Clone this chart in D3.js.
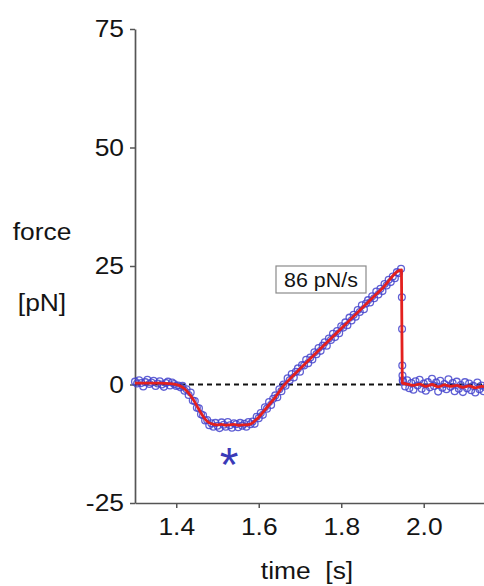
<!DOCTYPE html>
<html>
<head>
<meta charset="utf-8">
<script src="https://cdn.jsdelivr.net/npm/d3@7"></script>
<style>
  html, body { margin: 0; padding: 0; background: #fff; }
  svg { display: block; font-family: "Liberation Sans", Arial, Helvetica, sans-serif; }
</style>
</head>
<body>
<svg id="chart" width="484" height="586"></svg>
<script>
// ---- data ----
const yTicks = [-25, 0, 25, 50, 75];
const xTicks = [1.4, 1.6, 1.8, 2.0];

// measured samples (blue circles)
const sampleTime = [
  1.300,1.305,1.310,1.315,1.320,1.325,1.330,1.335,1.340,1.345,1.350,1.355,1.360,1.365,1.370,1.375,1.380,1.385,1.390,1.395,1.400,
  1.405,1.410,1.415,1.420,1.425,1.430,1.435,1.440,1.445,1.450,1.455,1.460,1.465,1.470,1.475,1.480,1.485,
  1.490,1.495,1.500,1.505,1.510,1.515,1.520,1.525,1.530,1.535,1.540,1.545,1.550,1.555,1.560,1.565,1.570,1.575,1.580,
  1.585,1.590,1.595,1.600,1.605,1.610,1.615,1.620,1.625,1.630,1.635,1.640,1.645,1.650,1.655,1.660,
  1.665,1.670,1.675,1.680,1.685,1.690,1.695,1.700,1.705,1.710,1.715,1.720,1.725,1.730,1.735,1.740,
  1.745,1.750,1.755,1.760,1.765,1.770,1.775,1.780,1.785,1.790,1.795,1.800,1.805,1.810,1.815,1.820,
  1.825,1.830,1.835,1.840,1.845,1.850,1.855,1.860,1.865,1.870,1.875,1.880,1.885,1.890,1.895,1.900,
  1.905,1.910,1.915,1.920,1.925,1.930,1.935,1.940,1.945,
  1.947,1.9475,1.948,1.9485,1.949,
  1.950,1.955,1.960,1.965,1.970,1.975,1.980,1.985,1.990,1.995,2.000,2.005,2.010,2.015,2.020,2.025,2.030,2.035,2.040,2.045,
  2.050,2.055,2.060,2.065,2.070,2.075,2.080,2.085,2.090,2.095,2.100,2.105,2.110,2.115,2.120,2.125,2.130,2.135,2.140,2.145,2.150
];
const sampleForce = [
  0.6,0.2,0.9,0.3,-0.4,0.5,1.0,0.1,0.4,0.8,-0.3,0.2,0.7,0.0,-0.5,0.3,0.6,-0.2,0.4,0.1,-0.3,
  -0.2,-0.6,-0.3,-1.3,-1.0,-2.2,-1.7,-3.4,-3.5,-4.9,-5.0,-6.3,-6.5,-7.6,-7.5,-8.6,-8.2,
  -8.9,-8.1,-8.7,-9.2,-8.0,-8.5,-8.9,-7.9,-8.6,-9.1,-8.2,-8.4,-9.0,-8.1,-8.7,-8.3,-8.9,-7.9,-8.4,
  -7.8,-8.3,-6.8,-7.1,-6.0,-6.4,-4.8,-5.1,-3.7,-4.3,-3.0,-2.3,-2.7,-1.0,-1.4,0.0,
  -0.25,1.3,0.9,2.2,1.5,2.7,3.4,2.7,4.1,4.0,5.2,4.5,5.7,5.3,6.8,6.4,
  7.7,7.1,8.2,8.9,8.2,9.7,9.4,10.7,10.0,11.3,10.8,12.3,12.0,13.1,12.5,14.1,
  13.5,14.7,14.3,15.7,15.3,16.7,15.9,17.1,17.8,17.3,18.6,18.2,19.6,19.0,20.2,19.7,
  21.2,20.9,22.1,21.6,22.8,22.4,23.7,23.5,24.4,
  18.4,11.7,4.0,1.9,0.9,
  0.6,-0.4,0.9,-0.8,0.3,-1.1,0.7,-0.2,1.0,-0.9,0.2,-1.3,0.5,-0.6,1.2,-0.3,0.4,-1.5,0.8,-0.7,
  0.1,-1.0,1.1,-0.5,0.3,-1.4,0.6,-0.9,-0.1,-1.6,0.5,-0.8,0.2,-1.2,-0.3,-1.7,0.4,-1.0,-0.2,-1.4,-0.6
];

// fitted trace (red line)
const fitTime = [
  1.300,1.320,1.340,1.360,1.380,1.395,1.400,1.410,1.420,1.430,1.440,1.450,1.460,1.470,1.480,1.490,
  1.500,1.510,1.520,1.530,1.540,1.550,1.560,1.570,1.578,1.585,1.590,1.600,1.620,1.640,1.660,1.680,
  1.700,1.750,1.800,1.850,1.900,1.946,1.948,1.960,1.975,1.990,2.005,2.020,2.035,2.050,2.065,2.080,
  2.095,2.110,2.125,2.140,2.150
];
const fitForce = [
  0.3,0.3,0.3,0.3,0.2,0.1,0.0,-0.3,-0.9,-1.8,-3.0,-4.5,-6.0,-7.3,-8.1,-8.4,
  -8.5,-8.4,-8.6,-8.5,-8.4,-8.6,-8.5,-8.5,-8.4,-8.1,-7.7,-6.9,-4.8,-2.7,-0.3,1.6,
  3.3,7.6,11.8,16.1,20.3,24.2,0.3,0.1,-0.2,0.1,-0.4,0.0,-0.5,-0.1,-0.4,-0.2,
  -0.6,-0.3,-0.7,-0.4,-0.5
];

const rateLabel = "86 pN/s";
const markerLabel = "*";
const yLabelLines = ["force", "[pN]"];
const xLabel = "time\u00a0\u00a0[s]";

// ---- drawing ----
const svg = d3.select("#chart");
const W = 484, H = 586;
const SX = 1.1; // slight horizontal stretch of the lettering in the reference

const x = d3.scaleLinear().domain([1.3, 2.15]).range([135, 485.6]);
const y = d3.scaleLinear().domain([-25, 75]).range([503, 29]);

const axisColor = "#555";
const textColor = "#141414";

function stretchText(sel) {
  sel.each(function () {
    const t = d3.select(this);
    const tx = +t.attr("x") || 0;
    const ty = +t.attr("y") || 0;
    t.attr("x", 0).attr("y", 0)
     .attr("transform", `translate(${tx},${ty}) scale(${SX},1)`);
  });
}

// clip for data
svg.append("clipPath").attr("id", "plotclip")
  .append("rect").attr("x", 130).attr("y", 0).attr("width", W - 130).attr("height", 503);

// y axis
const gy = svg.append("g").attr("transform", `translate(${x(1.3)},0)`)
  .call(d3.axisLeft(y).tickValues(yTicks).tickFormat(d => String(d)).tickSize(5).tickSizeOuter(0).tickPadding(6));
gy.select(".domain").attr("stroke", axisColor).attr("stroke-width", 1.7);
gy.selectAll(".tick line").attr("stroke", axisColor).attr("stroke-width", 1.5);
gy.selectAll(".tick text").attr("fill", textColor).attr("font-size", 24)
  .attr("font-family", "Liberation Sans, Arial, sans-serif").call(stretchText);

// x axis
const gx = svg.append("g").attr("transform", `translate(0,${y(-25)})`)
  .call(d3.axisBottom(x).tickValues(xTicks).tickFormat(d3.format(".1f")).tickSize(5).tickSizeOuter(0).tickPadding(10));
gx.select(".domain").attr("stroke", axisColor).attr("stroke-width", 1.7);
gx.selectAll(".tick line").attr("stroke", axisColor).attr("stroke-width", 1.5);
gx.selectAll(".tick text").attr("fill", textColor).attr("font-size", 24)
  .attr("font-family", "Liberation Sans, Arial, sans-serif").call(stretchText);

// zero reference line
svg.append("line")
  .attr("x1", x(1.3)).attr("x2", W)
  .attr("y1", y(0)).attr("y2", y(0))
  .attr("stroke", "#111").attr("stroke-width", 2).attr("stroke-dasharray", "5,4");

const plot = svg.append("g").attr("clip-path", "url(#plotclip)");

// samples
plot.append("g").selectAll("circle")
  .data(sampleTime.map((t, i) => [t, sampleForce[i]]))
  .join("circle")
  .attr("cx", d => x(d[0])).attr("cy", d => y(d[1])).attr("r", 3.4)
  .attr("fill", "none").attr("stroke", "#4444cc").attr("stroke-width", 1.3).attr("stroke-opacity", 0.85);

// fitted trace
const line = d3.line().x(d => x(d[0])).y(d => y(d[1])).curve(d3.curveMonotoneX);
plot.append("path")
  .datum(fitTime.map((t, i) => [t, fitForce[i]]))
  .attr("d", line)
  .attr("fill", "none").attr("stroke", "#e3201e").attr("stroke-width", 2.8).attr("stroke-linejoin", "round");

// rate label box
svg.append("rect").attr("x", 276).attr("y", 266).attr("width", 90).attr("height", 27)
  .attr("fill", "#fff").attr("stroke", "#8a8a8a").attr("stroke-width", 1.2);
svg.append("text").attr("x", 321).attr("y", 287).attr("text-anchor", "middle")
  .attr("font-size", 19.5).attr("fill", textColor).text(rateLabel).call(stretchText);

// asterisk marker under the plateau
svg.append("text").attr("x", 229).attr("y", 481).attr("text-anchor", "middle")
  .attr("font-size", 48).attr("fill", "#3a3ab8").text(markerLabel);

// axis titles
svg.append("text").attr("x", 42).attr("y", 240).attr("text-anchor", "middle")
  .attr("font-size", 24).attr("fill", textColor).text(yLabelLines[0]).call(stretchText);
svg.append("text").attr("x", 42).attr("y", 311).attr("text-anchor", "middle")
  .attr("font-size", 24).attr("fill", textColor).text(yLabelLines[1]).call(stretchText);
svg.append("text").attr("x", 307).attr("y", 579).attr("text-anchor", "middle")
  .attr("font-size", 24).attr("fill", textColor).text(xLabel).call(stretchText);
</script>
</body>
</html>
